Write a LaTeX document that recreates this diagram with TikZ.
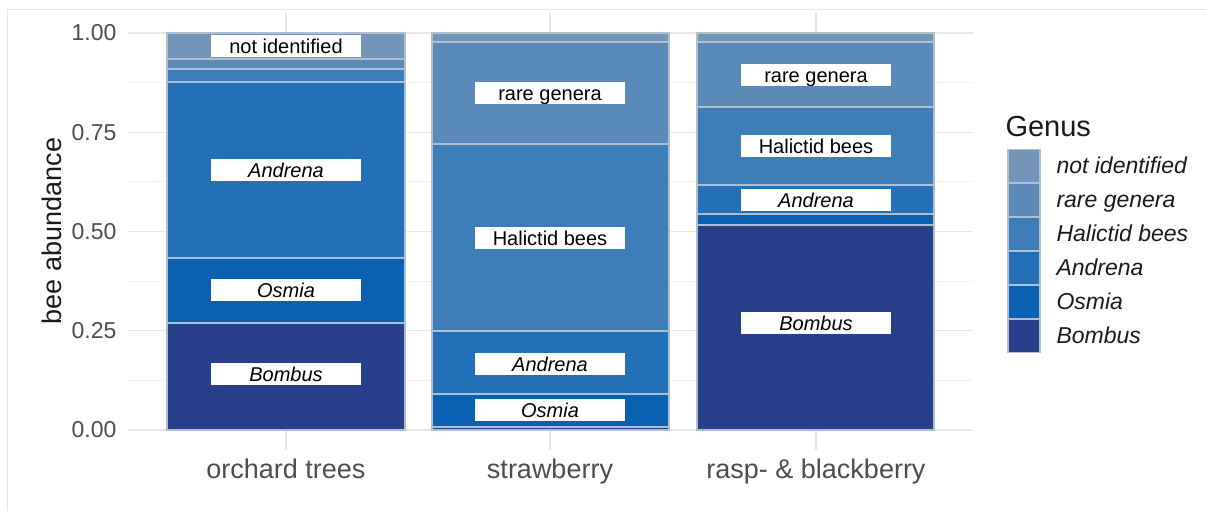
\documentclass[tikz,border=0pt]{standalone}
\usepackage{fontspec}
\setmainfont{Liberation Sans}
\usepackage{tikz}

\definecolor{notid}{HTML}{7395B8}
\definecolor{rare}{HTML}{5A8AB8}
\definecolor{halic}{HTML}{3D7DB8}
\definecolor{andr}{HTML}{2370B6}
\definecolor{osm}{HTML}{0B61B1}
\definecolor{bomb}{HTML}{283F8A}
\definecolor{segline}{HTML}{AEBFD1}
\definecolor{gridmajor}{HTML}{E6E6E6}
\definecolor{gridminor}{HTML}{F1F1F1}
\definecolor{axgrey}{HTML}{4D4D4D}
\definecolor{txt}{HTML}{1A1A1A}

\begin{document}
\begin{tikzpicture}[x=1pt,y=1pt,
    seg/.style={draw=segline,line width=1.5pt},
    lab/.style={fill=white,inner sep=0pt,minimum width=150pt,minimum height=22pt,
        text height=16pt,text depth=1pt,text=black,font=\fontsize{20}{24}\selectfont},
    ticklab/.style={anchor=east,text=axgrey,font=\fontsize{23}{27}\selectfont},
    catlab/.style={anchor=base,text=axgrey,font=\fontsize{27}{32}\selectfont},
    keybox/.style={draw=segline,line width=1.5pt,minimum width=32pt,minimum height=33pt,inner sep=0pt},
    keylab/.style={anchor=base west,text=txt,font=\fontsize{23}{27}\selectfont\itshape}]
    \useasboundingbox (0,0) rectangle (1205,511);
    \draw[gridmajor,line width=0.8pt] (7,0) -- (7,502) -- (1205,502);

    % panel: grid, bars, labels
    \begin{scope}[yshift=81pt,y=397pt]
        \foreach \v in {0.125,0.375,0.625,0.875}
            \draw[gridminor,line width=0.9pt] (128,\v) -- (973,\v);
        \foreach \v in {0,0.25,0.5,0.75,1}
            \draw[gridmajor,line width=1.4pt] (128,\v) -- (973,\v);
        \foreach \c in {286,550,816}
            \draw[gridmajor,line width=1.4pt] (\c,-0.05) -- (\c,1.05);

        \node[ticklab] (t0) at (120,0) {0.00};
        \node[ticklab] (t1) at (120,0.25) {0.25};
        \node[ticklab] (t2) at (120,0.5) {0.50};
        \node[ticklab] (t3) at (120,0.75) {0.75};
        \node[ticklab] (t4) at (120,1) {1.00};

        % orchard trees
        \draw[seg,fill=bomb] (167,0) rectangle (405,0.27);
        \draw[seg,fill=osm] (167,0.27) rectangle (405,0.433);
        \draw[seg,fill=andr] (167,0.433) rectangle (405,0.877);
        \draw[seg,fill=halic] (167,0.877) rectangle (405,0.909);
        \draw[seg,fill=rare] (167,0.909) rectangle (405,0.934);
        \draw[seg,fill=notid] (167,0.934) rectangle (405,1);
        \node[lab] (orchNotid) at (286,0.967) {not identified};
        \node[lab] (orchAndr) at (286,0.655) {\itshape Andrena};
        \node[lab] (orchOsm) at (286,0.352) {\itshape Osmia};
        \node[lab] (orchBomb) at (286,0.14) {\itshape Bombus};

        % strawberry
        \draw[seg,fill=bomb] (432,0) rectangle (669,0.008);
        \draw[seg,fill=osm] (432,0.008) rectangle (669,0.091);
        \draw[seg,fill=andr] (432,0.091) rectangle (669,0.249);
        \draw[seg,fill=halic] (432,0.249) rectangle (669,0.72);
        \draw[seg,fill=rare] (432,0.72) rectangle (669,0.977);
        \draw[seg,fill=notid] (432,0.977) rectangle (669,1);
        \node[lab] (strawRare) at (550,0.85) {rare genera};
        \node[lab] (strawHalic) at (550,0.484) {Halictid bees};
        \node[lab] (strawAndr) at (550,0.166) {\itshape Andrena};
        \node[lab] (strawOsm) at (550,0.05) {\itshape Osmia};

        % rasp- & blackberry
        \draw[seg,fill=bomb] (697,0) rectangle (934,0.516);
        \draw[seg,fill=osm] (697,0.516) rectangle (934,0.544);
        \draw[seg,fill=andr] (697,0.544) rectangle (934,0.617);
        \draw[seg,fill=halic] (697,0.617) rectangle (934,0.814);
        \draw[seg,fill=rare] (697,0.814) rectangle (934,0.977);
        \draw[seg,fill=notid] (697,0.977) rectangle (934,1);
        \node[lab] (raspRare) at (816,0.894) {rare genera};
        \node[lab] (raspHalic) at (816,0.716) {Halictid bees};
        \node[lab] (raspAndr) at (816,0.58) {\itshape Andrena};
        \node[lab] (raspBomb) at (816,0.27) {\itshape Bombus};
    \end{scope}

    % axis titles
    \node[rotate=90,text=txt,font=\fontsize{27}{32}\selectfont] (ytitle) at (52,280) {bee abundance};
    \node[catlab] (catOrch) at (286,32) {orchard trees};
    \node[catlab] (catStraw) at (550,32) {strawberry};
    \node[catlab] (catRasp) at (816,32) {rasp- \& blackberry};

    % legend
    \node[anchor=west,text=txt,font=\fontsize{29}{34}\selectfont] (genus) at (1002,384) {Genus};
    \node[keybox,fill=notid] (kNotid) at (1024,345) {};
    \node[keybox,fill=rare] (kRare) at (1024,311) {};
    \node[keybox,fill=halic] (kHalic) at (1024,277) {};
    \node[keybox,fill=andr] (kAndr) at (1024,243) {};
    \node[keybox,fill=osm] (kOsm) at (1024,209) {};
    \node[keybox,fill=bomb] (kBomb) at (1024,175) {};
    \node[keylab] (lNotid) at (1053,337) {not identified};
    \node[keylab] (lRare) at (1053,303) {rare genera};
    \node[keylab] (lHalic) at (1053,269) {Halictid bees};
    \node[keylab] (lAndr) at (1053,235) {Andrena};
    \node[keylab] (lOsm) at (1053,201) {Osmia};
    \node[keylab] (lBomb) at (1053,167) {Bombus};
\end{tikzpicture}
\end{document}
